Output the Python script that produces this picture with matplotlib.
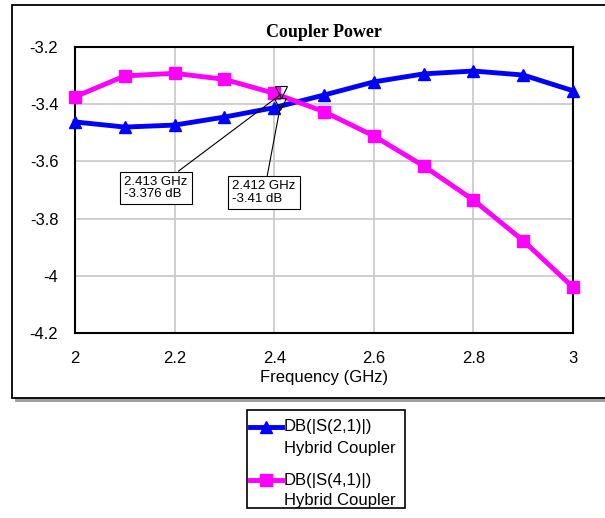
import matplotlib
matplotlib.use("Agg")
import matplotlib.pyplot as plt
from matplotlib.patches import Rectangle
from matplotlib.lines import Line2D

freq = [2.0, 2.1, 2.2, 2.3, 2.4, 2.5, 2.6, 2.7, 2.8, 2.9, 3.0]
s21 = [-3.462, -3.480, -3.473, -3.445, -3.412, -3.368, -3.322, -3.294, -3.284, -3.298, -3.353]
s41 = [-3.374, -3.301, -3.292, -3.313, -3.362, -3.426, -3.511, -3.616, -3.735, -3.877, -4.040]
xticks = [2, 2.2, 2.4, 2.6, 2.8, 3]
xticklabels = ["2", "2.2", "2.4", "2.6", "2.8", "3"]
yticks = [-4.2, -4, -3.8, -3.6, -3.4, -3.2]
yticklabels = ["-4.2", "-4", "-3.8", "-3.6", "-3.4", "-3.2"]
m1 = (2.413, -3.376, "2.413 GHz\n-3.376 dB")
m2 = (2.412, -3.41, "2.412 GHz\n-3.41 dB")
legend_labels = [("DB(|S(2,1)|)", "Hybrid Coupler"), ("DB(|S(4,1)|)", "Hybrid Coupler")]

plt.rcParams['font.family'] = ['Liberation Sans', 'DejaVu Sans']
W, H = 605, 518
fig = plt.figure(figsize=(W/100, H/100), dpi=100)

def fx(px): return px / W
def fy(py): return 1 - py / H

# outer frame with shadow
fig.patches.append(Rectangle((fx(15), fy(402)), fx(620-15), fy(8) - fy(402),
                             transform=fig.transFigure, facecolor='#a0a0a0', edgecolor='none', zorder=0))
fig.patches.append(Rectangle((fx(12), fy(398)), fx(620-12), fy(5) - fy(398),
                             transform=fig.transFigure, facecolor='white', edgecolor='black', lw=1.3, zorder=1))

ax = fig.add_axes([fx(75), fy(333), fx(573-75), fy(47) - fy(333)])
ax.set_zorder(2)
ax.plot(freq, s21, color='#0000ff', lw=3.5, marker='^', ms=9, mec='#0000ff', mfc='#0000ff', zorder=3, clip_on=False)
ax.plot(freq, s41, color='#ff00ff', lw=3.5, marker='s', ms=9, mec='#ff00ff', mfc='#ff00ff', zorder=3, clip_on=False)
ax.set_xlim(2, 3)
ax.set_ylim(-4.2, -3.2)
ax.set_xticks(xticks)
ax.set_xticklabels(xticklabels)
ax.set_yticks(yticks)
ax.set_yticklabels(yticklabels)
ax.tick_params(length=0, labelsize=12, pad=13)
ax.tick_params(axis='y', pad=12)
ax.grid(True, color='#cccccc', lw=1.3)
for s in ax.spines.values():
    s.set_linewidth(1.5)
ax.set_xlabel("Frequency (GHz)", fontsize=12, labelpad=3)
ax.set_title("Coupler Power", fontsize=13, fontweight='bold', family='Liberation Serif', pad=7)

# markers and annotations
ax.plot([m1[0]], [m1[1]+0.02], marker='v', ms=8, mfc='none', mec='black', mew=0.8, zorder=5)
ax.plot([m2[0]], [m2[1]+0.01], marker='v', ms=8, mfc='none', mec='black', mew=0.8, zorder=5)
bbox = dict(boxstyle='square,pad=0.3', fc='white', ec='black', lw=0.8)
ax.annotate(m1[2], xy=(m1[0], m1[1]+0.01), xytext=(2.099, -3.693), fontsize=9.5, bbox=bbox,
            ha='left', va='center', linespacing=1.1,
            arrowprops=dict(arrowstyle='-', color='black', lw=0.8, shrinkA=0, shrinkB=0), zorder=6)
ax.annotate(m2[2], xy=(m2[0], m2[1]), xytext=(2.316, -3.709), fontsize=9.5, bbox=bbox,
            ha='left', va='center', linespacing=1.1,
            arrowprops=dict(arrowstyle='-', color='black', lw=0.8, shrinkA=0, shrinkB=0), zorder=6)

# legend (drawn manually so the sample aligns with the first text line)
fig.patches.append(Rectangle((fx(247), fy(508)), fx(405-247), fy(410) - fy(508),
                             transform=fig.transFigure, facecolor='white', edgecolor='black', lw=1.2, zorder=3))
styles = [dict(color='#0000ff', marker='^'), dict(color='#ff00ff', marker='s')]
for i, ((l1, l2), st) in enumerate(zip(legend_labels, styles)):
    y0 = 427 + i * 53
    fig.add_artist(Line2D([fx(250), fx(282)], [fy(y0), fy(y0)], transform=fig.transFigure,
                          color=st['color'], lw=3.5, zorder=4))
    fig.add_artist(Line2D([fx(266)], [fy(y0)], transform=fig.transFigure, color=st['color'],
                          marker=st['marker'], ms=9, lw=0, zorder=4))
    fig.text(fx(284), fy(y0), l1, fontsize=12, ha='left', va='center', zorder=5)
    fig.text(fx(284), fy(y0 + 21), l2, fontsize=12, ha='left', va='center', zorder=5)

fig.savefig("out.png", dpi=100)
